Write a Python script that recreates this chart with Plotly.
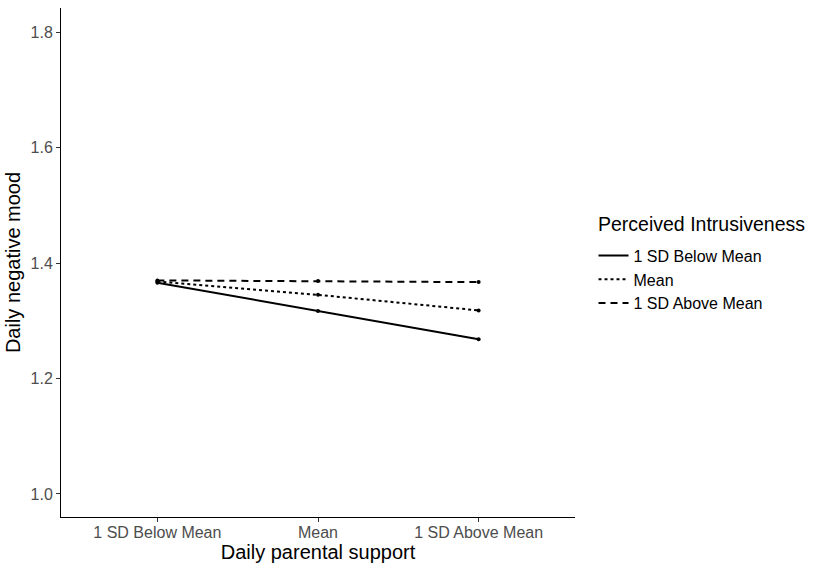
import plotly.graph_objects as go

categories = ["1 SD Below Mean", "Mean", "1 SD Above Mean"]
series_names = ["1 SD Below Mean", "Mean", "1 SD Above Mean"]
below_vals = [1.366, 1.317, 1.268]
mean_vals = [1.368, 1.345, 1.318]
above_vals = [1.370, 1.369, 1.367]
y_ticks = [1.0, 1.2, 1.4, 1.6, 1.8]
legend_title = "Perceived Intrusiveness"

series_vals = [below_vals, mean_vals, above_vals]
dashes = ["solid", "3px,3px", "7px,5px"]

fig = go.Figure()
for name, vals, dash in zip(series_names, series_vals, dashes):
    fig.add_trace(go.Scatter(
        x=categories, y=vals, name=name, mode="lines",
        line=dict(color="black", width=2, dash=dash),
    ))
for name, vals in zip(series_names, series_vals):
    fig.add_trace(go.Scatter(
        x=categories, y=vals, name=name, mode="markers", showlegend=False,
        marker=dict(color="black", size=4),
    ))

fig.add_annotation(
    text=legend_title, xref="paper", yref="paper",
    x=1.0408, y=0.5756, xanchor="left", yanchor="middle",
    showarrow=False, font=dict(size=19.5, color="black"),
)

fig.update_layout(
    width=813, height=566,
    margin=dict(l=61, r=238, t=8, b=49),
    paper_bgcolor="white", plot_bgcolor="white",
    font=dict(family="Liberation Sans, Arial, sans-serif", color="black"),
    showlegend=True,
    legend=dict(
        x=1.036, y=0.547, xanchor="left", yanchor="top",
        font=dict(size=16, color="black"),
        itemwidth=30, tracegroupgap=0,
        bgcolor="rgba(0,0,0,0)",
    ),
    xaxis=dict(
        type="category", range=[-0.6, 2.6], automargin=False,
        showline=True, linecolor="black", linewidth=1,
        ticks="outside", ticklen=4, tickcolor="#333333",
        ticklabelstandoff=-3,
        tickfont=dict(size=16, color="#4D4D4D"),
        showgrid=False, zeroline=False,
        title=dict(text="Daily parental support", font=dict(size=20, color="black"), standoff=2),
    ),
    yaxis=dict(
        range=[0.960, 1.842], tickvals=y_ticks, tickformat=".1f", automargin=False,
        showline=True, linecolor="black", linewidth=1,
        ticks="outside", ticklen=4, tickcolor="#333333",
        tickfont=dict(size=16, color="#4D4D4D"),
        showgrid=False, zeroline=False,
        title=dict(text="Daily negative mood", font=dict(size=20, color="black"), standoff=4),
    ),
)

fig.write_html("out.html")
